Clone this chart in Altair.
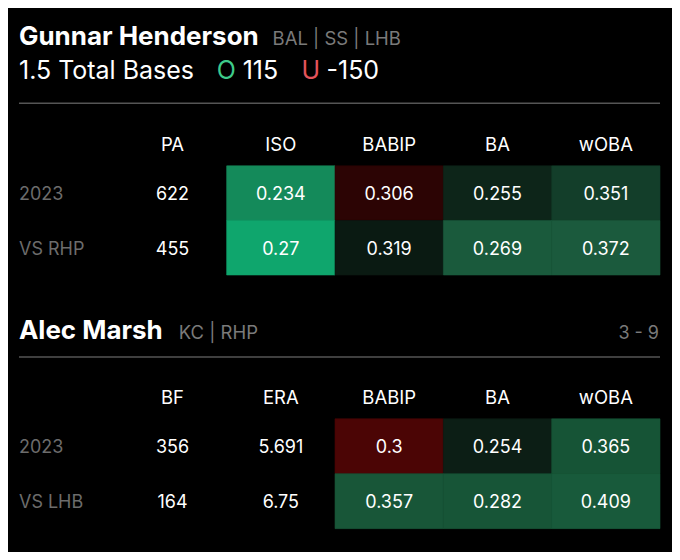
import altair as alt
import pandas as pd

FONT = "Inter"
WHITE = "#ffffff"
GRAY = "#7a7a7a"
LABEL_GRAY = "#6c6c6c"

# ---------------- Batter data ----------------
batter_name = "Gunnar Henderson"
batter_info = "BAL | SS | LHB"
prop_line = "1.5 Total Bases"
over_mark = "O"
over_odds = "115"
under_mark = "U"
under_odds = "-150"
batter_rows = ["2023", "VS RHP"]
batter_cols = ["PA", "ISO", "BABIP", "BA", "wOBA"]
batter_vals = [
    [622, 0.234, 0.306, 0.255, 0.351],
    [455, 0.27, 0.319, 0.269, 0.372],
]
batter_shaded = ["ISO", "BABIP", "BA", "wOBA"]
batter_fill = [
    ["#148a5a", "#2c0404", "#0d2519", "#133e2a"],
    ["#0fa66d", "#0a1a12", "#1a5a3c", "#1b5a3d"],
]

# ---------------- Pitcher data ----------------
pitcher_name = "Alec Marsh"
pitcher_info = "KC | RHP"
pitcher_record = "3 - 9"
pitcher_rows = ["2023", "VS LHB"]
pitcher_cols = ["BF", "ERA", "BABIP", "BA", "wOBA"]
pitcher_vals = [
    [356, 5.691, 0.3, 0.254, 0.365],
    [164, 6.75, 0.357, 0.282, 0.409],
]
pitcher_shaded = ["BABIP", "BA", "wOBA"]
pitcher_fill = [
    ["#4b0505", "#0c1e15", "#165436"],
    ["#185638", "#175537", "#185a3b"],
]

PANEL_W = 651
COL_KEYS = ["c0", "c1", "c2", "c3", "c4", "c5"]
ROW_KEYS = ["hdr", "r0", "r1"]


def one(text):
    return pd.DataFrame({"t": [text]})


def table_panel(prefix, rows, cols, vals, shaded, fills, height, yrange, hdr_dy, extra):
    cells, heads, fill_rows = [], [], []
    for j, c in enumerate(cols):
        heads.append({"row": "hdr", "col": COL_KEYS[j + 1], "text": c})
    for i, r in enumerate(rows):
        cells.append({"row": f"r{i}", "col": "c0", "text": r})
        for j, c in enumerate(cols):
            cells.append({"row": f"r{i}", "col": COL_KEYS[j + 1], "text": str(vals[i][j])})
            if c in shaded:
                k = shaded.index(c)
                fill_rows.append({"row": f"r{i}", "col": COL_KEYS[j + 1],
                                  "key": f"{prefix}{i}{k}", "color": fills[i][k]})
    cells_df = pd.DataFrame(cells)
    fill_df = pd.DataFrame(fill_rows)

    x = alt.X("col:N", scale=alt.Scale(domain=COL_KEYS, paddingInner=0, paddingOuter=0), axis=None)
    y = alt.Y("row:N", scale=alt.Scale(domain=ROW_KEYS, range=yrange, paddingInner=0, paddingOuter=0), axis=None)
    cscale = alt.Scale(domain=list(fill_df["key"]), range=list(fill_df["color"]))

    rect = alt.Chart(fill_df).mark_rect(strokeWidth=0.6).encode(
        x=x, y=y,
        fill=alt.Fill("key:N", scale=cscale, legend=None),
        stroke=alt.Stroke("key:N", scale=cscale, legend=None),
    )
    head = alt.Chart(pd.DataFrame(heads)).mark_text(
        fontSize=18.5, color=WHITE, dy=hdr_dy, baseline="middle", align="center"
    ).encode(x=x, y=y, text="text:N")
    vals_t = alt.Chart(cells_df[cells_df["col"] != "c0"]).mark_text(
        fontSize=18, color=WHITE, dy=2, baseline="middle", align="center"
    ).encode(x=x, y=y, text="text:N")
    labels = alt.Chart(cells_df[cells_df["col"] == "c0"]).mark_text(
        fontSize=18, color=LABEL_GRAY, dy=2, baseline="middle", align="left", dx=-(PANEL_W / 12) + 9
    ).encode(x=x, y=y, text="text:N")

    return alt.layer(rect, head, vals_t, labels, *extra).properties(width=PANEL_W, height=height)


# Panel 1 header elements
p1_extra = [
    alt.Chart(one(batter_name)).mark_text(fontSize=26, fontWeight="bold", color=WHITE, align="left", baseline="alphabetic")
    .encode(text="t:N", x=alt.value(9), y=alt.value(37)),
    alt.Chart(one(batter_info)).mark_text(fontSize=18.5, color=GRAY, align="left", baseline="alphabetic")
    .encode(text="t:N", x=alt.value(263), y=alt.value(37)),
    alt.Chart(one(prop_line)).mark_text(fontSize=25, color=WHITE, align="left", baseline="alphabetic")
    .encode(text="t:N", x=alt.value(9), y=alt.value(71)),
    alt.Chart(one(over_mark)).mark_text(fontSize=25, color="#3ecb8a", align="left", baseline="alphabetic")
    .encode(text="t:N", x=alt.value(207), y=alt.value(71)),
    alt.Chart(one(over_odds)).mark_text(fontSize=25, color=WHITE, align="left", baseline="alphabetic")
    .encode(text="t:N", x=alt.value(233), y=alt.value(71)),
    alt.Chart(one(under_mark)).mark_text(fontSize=25, color="#e4535b", align="left", baseline="alphabetic")
    .encode(text="t:N", x=alt.value(292), y=alt.value(71)),
    alt.Chart(one(under_odds)).mark_text(fontSize=25, color=WHITE, align="left", baseline="alphabetic")
    .encode(text="t:N", x=alt.value(317), y=alt.value(71)),
    alt.Chart(one("")).mark_rule(color="#555555", strokeWidth=1.5)
    .encode(x=alt.value(9), x2=alt.value(651), y=alt.value(95)),
]

p2_extra = [
    alt.Chart(one(pitcher_name)).mark_text(fontSize=26, fontWeight="bold", color=WHITE, align="left", baseline="alphabetic")
    .encode(text="t:N", x=alt.value(9), y=alt.value(49)),
    alt.Chart(one(pitcher_info)).mark_text(fontSize=18.5, color=GRAY, align="left", baseline="alphabetic")
    .encode(text="t:N", x=alt.value(169), y=alt.value(49)),
    alt.Chart(one(pitcher_record)).mark_text(fontSize=18, color=GRAY, align="right", baseline="alphabetic")
    .encode(text="t:N", x=alt.value(650), y=alt.value(49)),
    alt.Chart(one("")).mark_rule(color="#555555", strokeWidth=1.5)
    .encode(x=alt.value(9), x2=alt.value(651), y=alt.value(67)),
]

p1 = table_panel("b", batter_rows, batter_cols, batter_vals, batter_shaded, batter_fill,
                 282, [103, 267], 6, p1_extra)
p2 = table_panel("p", pitcher_rows, pitcher_cols, pitcher_vals, pitcher_shaded, pitcher_fill,
                 262, [74, 239], 6.5, p2_extra)

chart = (
    alt.vconcat(p1, p2, spacing=0)
    .resolve_scale(x="independent", y="independent", fill="independent", stroke="independent")
    .properties(background="#000000", padding={"left": 2, "top": 0, "right": 11, "bottom": 0})
    .configure_view(stroke=None)
    .configure_text(font=FONT)
    .configure_concat(spacing=0)
)

chart.save("out.html", embed_options={"renderer": "svg", "actions": False})
